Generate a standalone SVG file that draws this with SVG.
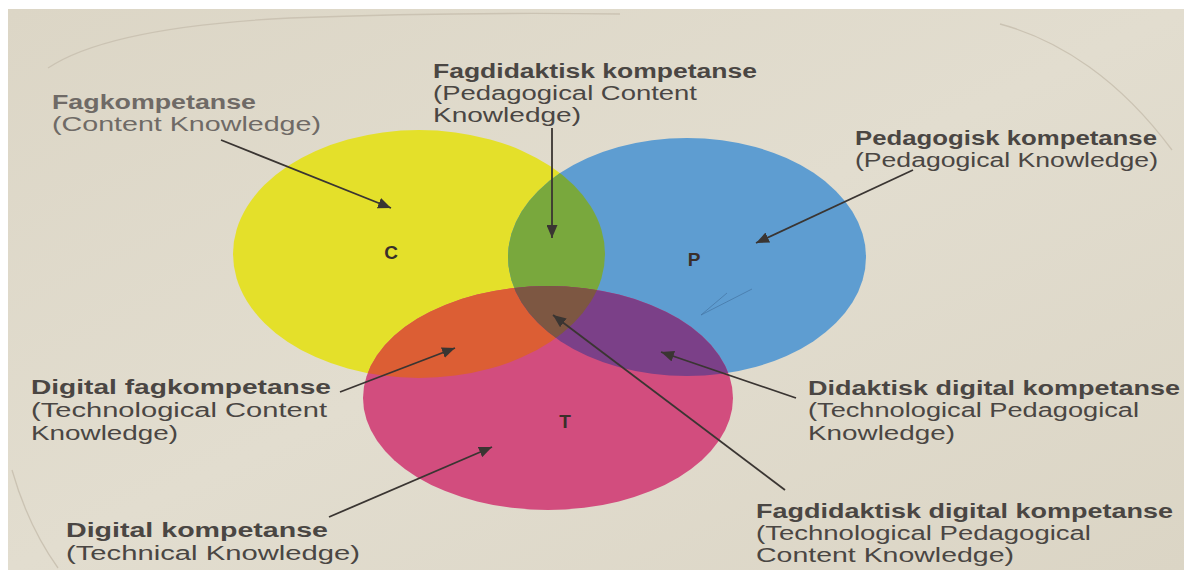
<svg xmlns="http://www.w3.org/2000/svg" width="1184" height="570" viewBox="0 0 1184 570">
  <style>
    .b { font-family: "Liberation Sans", Arial, sans-serif; font-weight: 700; font-size: 19.5px; fill: #4a4643; }
    .r { font-family: "Liberation Sans", Arial, sans-serif; font-weight: 400; font-size: 19.5px; fill: #4a4643; }
    .lt { fill: #6f6a66; }
    .letter { font-family: "Liberation Sans", Arial, sans-serif; font-weight: 700; font-size: 19px; fill: #3a2f2a; text-anchor: middle; }
    .conn { stroke: #3a3532; stroke-width: 1.8; fill: none; marker-end: url(#ah); }
  </style>
  <defs>
    <linearGradient id="paper" x1="0" y1="0" x2="1" y2="1">
      <stop offset="0" stop-color="#dcd6c6"/>
      <stop offset="0.5" stop-color="#e2ddcf"/>
      <stop offset="1" stop-color="#dbd5c5"/>
    </linearGradient>
    <clipPath id="clipY"><ellipse cx="419" cy="254" rx="186" ry="124"/></clipPath>
    <clipPath id="clipB"><ellipse cx="687" cy="257" rx="179" ry="119"/></clipPath>
    <marker id="ah" markerWidth="13" markerHeight="11" refX="13" refY="5.5" orient="auto" markerUnits="userSpaceOnUse">
      <path d="M0,0 L13,5.5 L0,11 z" fill="#3a3532"/>
    </marker>
  </defs>

  <rect x="0" y="0" width="1184" height="570" fill="#ffffff"/>
  <rect x="8" y="9" width="1176" height="561" fill="url(#paper)"/>
  <g id="page-curves" fill="none" stroke="#cbc3b3" stroke-width="1.3">
    <path d="M48,68 C90,40 170,24 290,18 C420,13 540,13 620,14"/>
    <path d="M1000,24 C1060,40 1120,80 1172,150"/>
    <path d="M12,470 C22,505 38,540 58,568"/>
  </g>

  <g id="circle-C"><ellipse cx="419" cy="254" rx="186" ry="124" fill="#e4e02a"/></g>
  <g id="circle-P"><ellipse cx="687" cy="257" rx="179" ry="119" fill="#5e9dd1"/></g>
  <g id="circle-T"><ellipse cx="548" cy="398" rx="185" ry="112" fill="#d24d7e"/></g>

  <g id="overlap-CP"><ellipse cx="687" cy="257" rx="179" ry="119" fill="#79a83d" clip-path="url(#clipY)"/></g>
  <g id="overlap-CT"><ellipse cx="548" cy="398" rx="185" ry="112" fill="#dc5e34" clip-path="url(#clipY)"/></g>
  <g id="overlap-PT"><ellipse cx="548" cy="398" rx="185" ry="112" fill="#7b4088" clip-path="url(#clipB)"/></g>
  <g id="overlap-CPT" clip-path="url(#clipB)"><ellipse cx="548" cy="398" rx="185" ry="112" fill="#7d5742" clip-path="url(#clipY)"/></g>

  <g id="pencil-mark"><polyline points="727,293 701,315 752,289" fill="none" stroke="#4677a6" stroke-width="1" opacity="0.75"/></g>

  <g id="letters">
    <text class="letter" x="391" y="259">C</text>
    <text class="letter" x="694" y="266">P</text>
    <text class="letter" x="565" y="428">T</text>
  </g>

  <g id="connectors">
    <line class="conn" x1="221" y1="140" x2="391" y2="208"/>
    <line class="conn" x1="552" y1="128" x2="552" y2="238"/>
    <line class="conn" x1="913" y1="170" x2="756" y2="243"/>
    <line class="conn" x1="340" y1="392" x2="455" y2="348"/>
    <line class="conn" x1="329" y1="517" x2="492" y2="447"/>
    <line class="conn" x1="796" y1="398" x2="661" y2="352"/>
    <line class="conn" x1="785" y1="490" x2="553" y2="315"/>
  </g>

  <g id="label-content-knowledge">
    <text class="b lt" x="52" y="109" textLength="204" lengthAdjust="spacingAndGlyphs">Fagkompetanse</text>
    <text class="r lt" x="52" y="131" textLength="269" lengthAdjust="spacingAndGlyphs">(Content Knowledge)</text>
  </g>
  <g id="label-pedagogical-content-knowledge">
    <text class="b" x="433" y="78" textLength="324" lengthAdjust="spacingAndGlyphs">Fagdidaktisk kompetanse</text>
    <text class="r" x="433" y="100" textLength="264" lengthAdjust="spacingAndGlyphs">(Pedagogical Content</text>
    <text class="r" x="433" y="122" textLength="148" lengthAdjust="spacingAndGlyphs">Knowledge)</text>
  </g>
  <g id="label-pedagogical-knowledge">
    <text class="b" x="855" y="145" textLength="302" lengthAdjust="spacingAndGlyphs">Pedagogisk kompetanse</text>
    <text class="r" x="855" y="167" textLength="303" lengthAdjust="spacingAndGlyphs">(Pedagogical Knowledge)</text>
  </g>
  <g id="label-technological-content-knowledge">
    <text class="b" x="31" y="394" textLength="300" lengthAdjust="spacingAndGlyphs">Digital fagkompetanse</text>
    <text class="r" x="31" y="417" textLength="296" lengthAdjust="spacingAndGlyphs">(Technological Content</text>
    <text class="r" x="31" y="440" textLength="147" lengthAdjust="spacingAndGlyphs">Knowledge)</text>
  </g>
  <g id="label-technical-knowledge">
    <text class="b" x="66" y="537" textLength="262" lengthAdjust="spacingAndGlyphs">Digital kompetanse</text>
    <text class="r" x="66" y="560" textLength="294" lengthAdjust="spacingAndGlyphs">(Technical Knowledge)</text>
  </g>
  <g id="label-technological-pedagogical-knowledge">
    <text class="b" x="808" y="395" textLength="372" lengthAdjust="spacingAndGlyphs">Didaktisk digital kompetanse</text>
    <text class="r" x="808" y="417" textLength="331" lengthAdjust="spacingAndGlyphs">(Technological Pedagogical</text>
    <text class="r" x="808" y="440" textLength="147" lengthAdjust="spacingAndGlyphs">Knowledge)</text>
  </g>
  <g id="label-technological-pedagogical-content-knowledge">
    <text class="b" x="756" y="518" textLength="417" lengthAdjust="spacingAndGlyphs">Fagdidaktisk digital kompetanse</text>
    <text class="r" x="756" y="540" textLength="335" lengthAdjust="spacingAndGlyphs">(Technological Pedagogical</text>
    <text class="r" x="756" y="562" textLength="258" lengthAdjust="spacingAndGlyphs">Content Knowledge)</text>
  </g>
</svg>
